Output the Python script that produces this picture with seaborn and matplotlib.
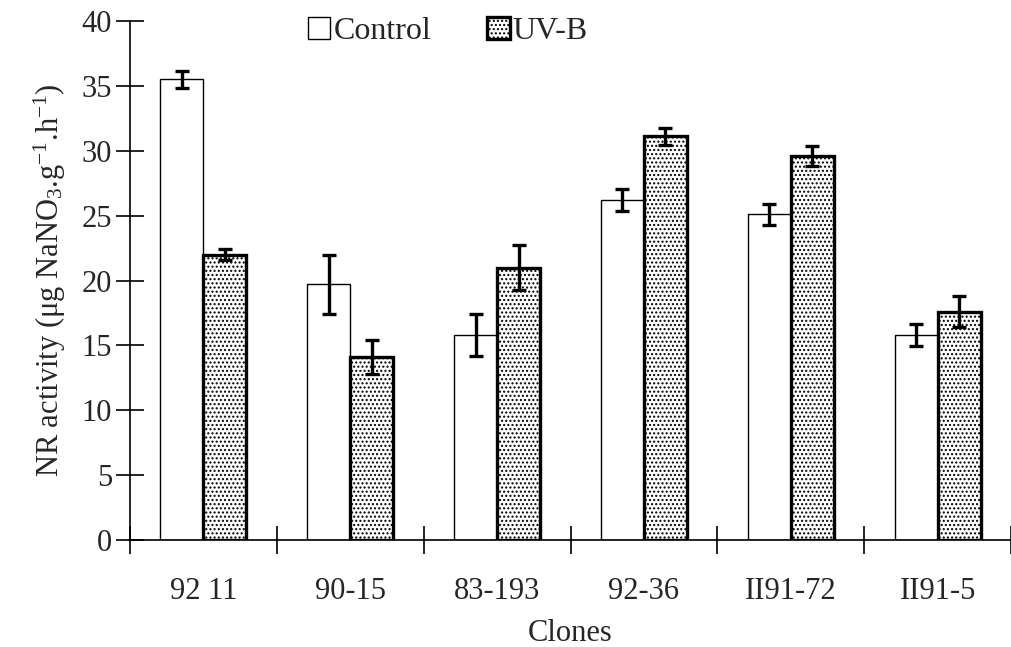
import numpy as np
import pandas as pd
import matplotlib
matplotlib.use("Agg")
import matplotlib.pyplot as plt
import seaborn as sns

clones = ["92 11", "90-15", "83-193", "92-36", "II91-72", "II91-5"]
treatments = ["Control", "UV-B"]
control = [35.5, 19.7, 15.8, 26.2, 25.1, 15.8]
control_err = [0.65, 2.25, 1.6, 0.85, 0.8, 0.85]
uvb = [22.0, 14.1, 21.0, 31.1, 29.6, 17.6]
uvb_err = [0.4, 1.3, 1.7, 0.65, 0.75, 1.2]
yticks = [0, 5, 10, 15, 20, 25, 30, 35, 40]

sns.set_theme(style="white")
plt.rcParams["font.family"] = ["Liberation Serif", "DejaVu Serif"]
plt.rcParams["mathtext.fontset"] = "custom"
plt.rcParams["mathtext.rm"] = "Liberation Serif"
plt.rcParams["mathtext.it"] = "Liberation Serif:italic"
plt.rcParams["hatch.linewidth"] = 1.0

df = pd.DataFrame({
    "Clones": clones * 2,
    "value": control + uvb,
    "err": control_err + uvb_err,
    "Treatment": [treatments[0]] * len(clones) + [treatments[1]] * len(clones),
})

fig = plt.figure(figsize=(10.11, 6.47), dpi=100)
ax = fig.add_axes([0.1286, 0.1654, 0.8714, 0.8021])

sns.barplot(data=df, x="Clones", y="value", hue="Treatment", order=clones,
            hue_order=treatments, palette=["white", "white"], width=0.585,
            errorbar=None, ax=ax, legend=True, saturation=1)

errs = {"Control": control_err, "UV-B": uvb_err}
vals = {"Control": control, "UV-B": uvb}
for cont, t in zip(ax.containers, treatments):
    for bar in cont:
        bar.set_edgecolor("black")
        if t == "UV-B":
            bar.set_hatch("....")
            bar.set_linewidth(2.4)
        else:
            bar.set_linewidth(1.0)
    xs = [b.get_x() + b.get_width() / 2 for b in cont]
    ax.errorbar(xs, vals[t], yerr=errs[t], fmt="none", ecolor="black",
                elinewidth=2.4, capsize=5, capthick=2.4, zorder=5)

ax.set_ylim(0, 40)
ax.set_xlim(-0.5, 0.8714 * 1011 / 147.3 - 0.5)
ax.set_yticks(yticks)
ax.set_yticklabels([str(v) for v in yticks], fontsize=22)
ax.tick_params(axis="y", which="major", direction="inout", length=20, width=1.2,
               color="black", pad=3, left=True)

ax.set_xticks(np.arange(-0.5, 6.0, 1.0))
ax.set_xticklabels([])
ax.set_xticks(np.arange(len(clones)), minor=True)
ax.set_xticklabels(clones, minor=True, fontsize=22)
ax.tick_params(axis="x", which="major", direction="inout", length=20, width=1.2,
               color="black", bottom=True)
ax.tick_params(axis="x", which="minor", length=0, pad=27, bottom=True)

for s in ["top", "right"]:
    ax.spines[s].set_visible(False)
for s in ["left", "bottom"]:
    ax.spines[s].set_color("black")
    ax.spines[s].set_linewidth(1.2)

ax.set_xlabel("Clones", fontsize=22, labelpad=9)
ax.set_ylabel(r"NR activity ($\mathrm{\mu}$g NaNO$_3$.g$^{-1}$.h$^{-1}$)", fontsize=22, labelpad=10)

leg = ax.legend(loc="upper center", bbox_to_anchor=(0.361, 1.063), ncol=2, frameon=False,
                fontsize=23, handlelength=0.7, handleheight=0.7, handletextpad=0.1,
                columnspacing=1.75)
for h, t in zip(leg.legend_handles, treatments):
    h.set_edgecolor("black")
    h.set_facecolor("white")
    if t == "UV-B":
        h.set_hatch("....")
        h.set_linewidth(2.4)
    else:
        h.set_linewidth(1.0)

fig.savefig("out.png", dpi=100)
